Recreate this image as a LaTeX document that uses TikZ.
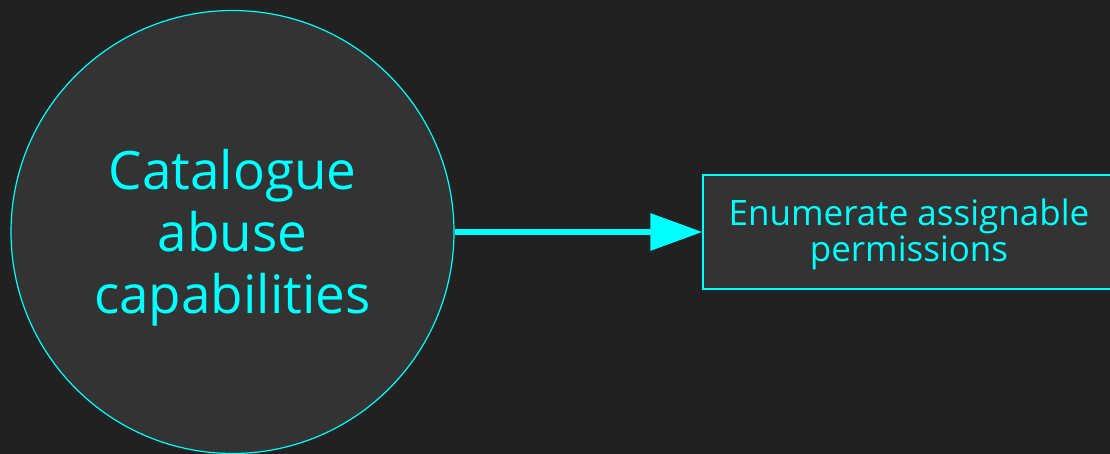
\documentclass[tikz,border=0pt]{standalone}
\usepackage{fontspec}
\setmainfont{Open Sans}
\usetikzlibrary{arrows.meta}
\definecolor{bgdark}{HTML}{212121}
\definecolor{nodefill}{HTML}{333333}
\definecolor{accent}{HTML}{00FFFF}
\tikzset{
  every node/.style={font=\rmfamily},
  stepcircle/.style={circle, draw=accent, line width=1.2pt, fill=nodefill,
    minimum size=443pt, inner sep=0pt},
  stepbox/.style={rectangle, draw=accent, line width=1.2pt, fill=nodefill,
    minimum width=412pt, minimum height=114pt, inner sep=0pt},
  bigtext/.style={text=accent, align=center, inner sep=0pt,
    font=\fontsize{53pt}{62pt}\selectfont},
  smalltext/.style={text=accent, align=center, inner sep=0pt,
    font=\fontsize{35pt}{36pt}\selectfont},
  flow/.style={draw=accent, line width=6pt,
    -{Triangle[length=52pt,width=36pt]}}
}
\begin{document}
\begin{tikzpicture}[x=1pt,y=1pt]
  \useasboundingbox (0,0) rectangle (1110,454);
  \fill[bgdark] (0,0) rectangle (1110,454);
  \begin{scope}
    \clip (0,0) rectangle (1110,454);
    % circular step and its label
    \node[stepcircle] (catalogue) at (232.5,222) {};
    \node[bigtext] (cataloguetext) at (232.5,216) {Catalogue\\abuse\\capabilities};
    % rectangular step (runs past the right edge) and its label
    \node[stepbox] (enumerate) at (909,222) {};
    \node[smalltext] (enumeratetext) at (909,220) {Enumerate assignable\\permissions};
    % connector
    \draw[flow] (catalogue.east) -- (enumerate.west);
  \end{scope}
\end{tikzpicture}
\end{document}
